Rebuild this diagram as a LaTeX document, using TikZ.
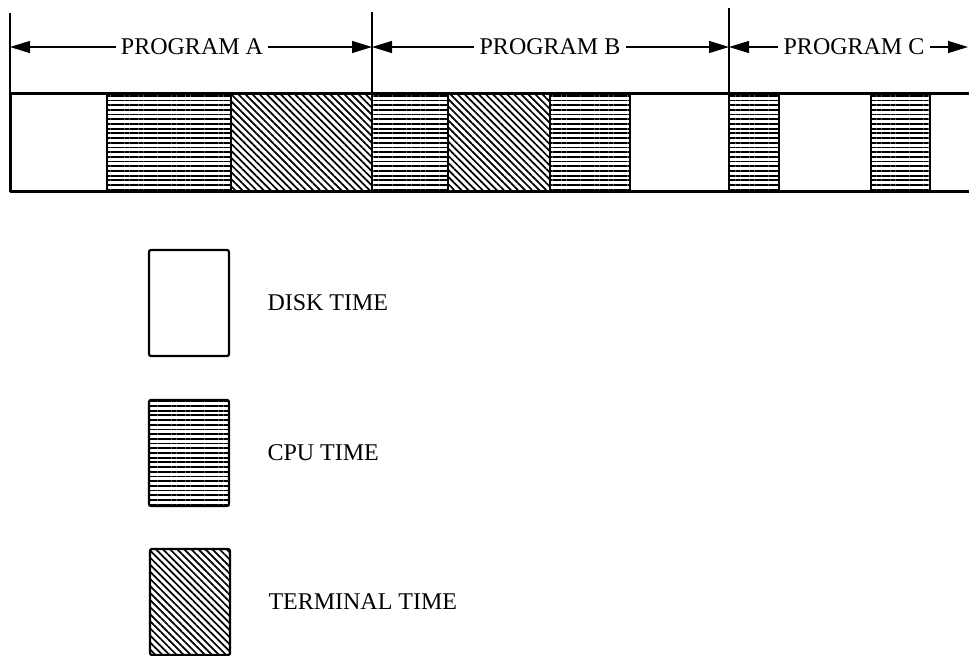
\documentclass[tikz,border=0pt]{standalone}
\usepackage{fontspec}
\setmainfont{Liberation Serif}
\usetikzlibrary{arrows.meta,positioning,patterns.meta}
\tikzset{
  slot/.style={draw=black, line width=1.1pt},
  disk/.style={slot, fill=white},
  cpu/.style={slot, pattern={Lines[angle=0,distance=2.35pt,line width=0.9pt]}},
  term/.style={slot, pattern={Lines[angle=-45,distance=2.5pt,line width=0.85pt]}},
  frame/.style={line width=1.5pt},
  tick/.style={line width=0.6pt},
  span/.style={-{Triangle[length=10pt,width=6pt]}, line width=0.6pt},
  lbl/.style={font=\fontsize{12}{14}\selectfont, inner xsep=2.5pt, inner ysep=0pt},
  key/.style={rounded corners=1pt, minimum width=40pt, minimum height=53pt, inner sep=0pt},
}
\begin{document}
\begin{tikzpicture}[x=0.5pt, y=-0.5pt]
\useasboundingbox (0,0) rectangle (969,655);
% time line
\draw[disk] (10,93) rectangle (107,191);
\draw[cpu] (107,93) rectangle (231,191);
\draw[term] (231,93) rectangle (372,191);
\draw[cpu] (372,93) rectangle (448,191);
\draw[term] (448,93) rectangle (550,191);
\draw[cpu] (550,93) rectangle (630,191);
\draw[disk] (630,93) rectangle (729,191);
\draw[cpu] (729,93) rectangle (779,191);
\draw[disk] (779,93) rectangle (871,191);
\draw[cpu] (871,93) rectangle (930,191);
\draw[frame] (10,93) -- (969,93) (10,191) -- (969,191) (10,93) -- (10,191);
% program spans
\coordinate (aL) at (10,47);
\coordinate (aB) at (372,47);
\coordinate (aC) at (729,47);
\coordinate (aE) at (968,47);
\draw[tick] (10,13) -- (10,93);
\draw[tick] (372,12) -- (372,93);
\draw[tick] (729,8) -- (729,93);
\node[lbl] (pa) at (192,47) {PROGRAM A};
\node[lbl] (pb) at (550,47) {PROGRAM B};
\node[lbl] (pc) at (854,47) {PROGRAM C};
\draw[span] (pa) -- (aL);\draw[span] (pa) -- (aB);
\draw[span] (pb) -- (aB);\draw[span] (pb) -- (aC);
\draw[span] (pc) -- (aC);\draw[span] (pc) -- (aE);
% key
\node[key, disk] (kd) at (189,303) {};
\node[key, cpu] (kc) at (189,453) {};
\node[key, term] (kt) at (190,602) {};
\node[lbl, right=16pt of kd] (tdisk) {DISK TIME};
\node[lbl, right=16pt of kc] (tcpu) {CPU TIME};
\node[lbl, right=16pt of kt] (tterm) {TERMINAL TIME};
\end{tikzpicture}
\end{document}
